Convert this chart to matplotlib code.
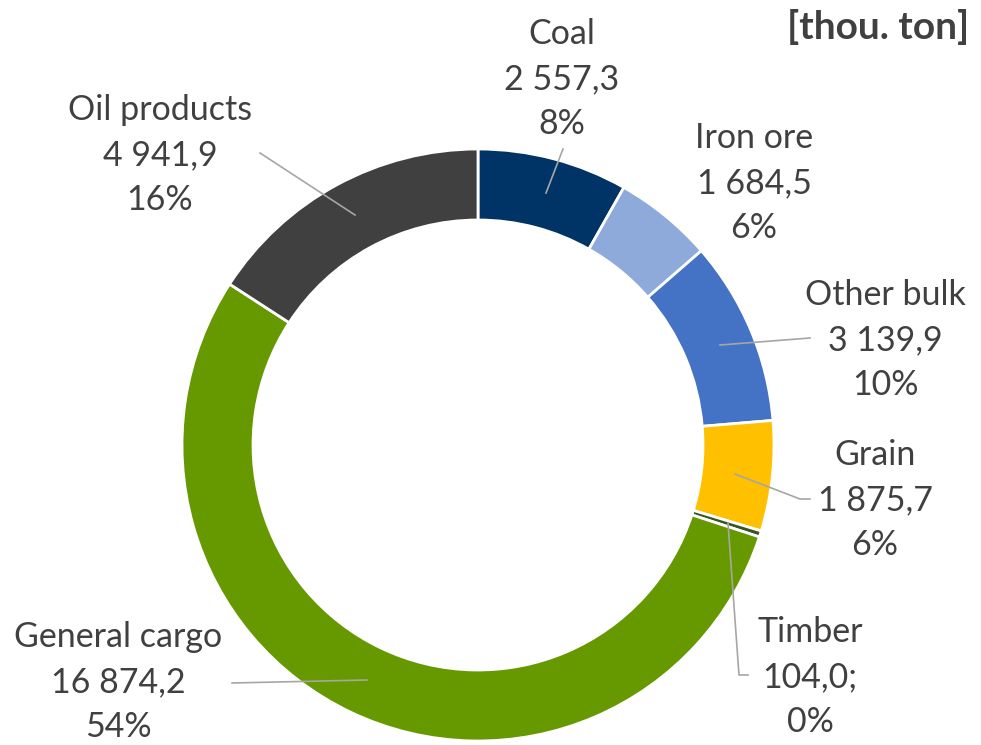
import matplotlib.pyplot as plt

# Datos
categorias = ['Coal', 'Iron ore', 'Other bulk', 'Grain', 'Timber', 'General cargo', 'Oil products']
valores = [2557.3, 1684.5, 3139.9, 1875.7, 104.0, 16874.2, 4941.9]
valores_txt = ['2 557,3', '1 684,5', '3 139,9', '1 875,7', '104,0;', '16 874,2', '4 941,9']
porcentajes = ['8%', '6%', '10%', '6%', '0%', '54%', '16%']
colores = ['#003366', '#8eaadb', '#4472c4', '#ffc000', '#375623', '#669900', '#404040']

# Posiciones de etiquetas (pixeles) y lineas guia
pos_etiquetas = [(562, 79), (754, 183), (885, 340), (875, 500), (810, 677), (118, 682), (160, 155)]
guias = [
    [(563, 149), (546, 193)],
    None,
    [(810, 338), (720, 345)],
    [(735, 474), (800, 499), (810, 499)],
    [(728, 523), (739, 675), (748, 675)],
    [(232, 683), (367, 680)],
    [(260, 153), (355, 215)],
]

W, H = 981, 745
fig = plt.figure(figsize=(W / 100, H / 100), dpi=100)
ax = fig.add_axes([0, 0, 1, 1])

fuente = 'Lato'
gris = '#404040'

# Dona (y invertida -> sentido antihorario se ve horario)
cx, cy, R = 478, 445, 296
ax.pie(valores, colors=colores, startangle=-90, counterclock=True,
       center=(cx, cy), radius=R, frame=True,
       wedgeprops=dict(width=71, edgecolor='white', linewidth=2))
ax.set_xlim(0, W)
ax.set_ylim(H, 0)
ax.axis('off')

for g in guias:
    if g is None:
        continue
    xs = [p[0] for p in g]
    ys = [p[1] for p in g]
    ax.plot(xs, ys, color='#a6a6a6', lw=1.2, zorder=5)

for cat, v, p, (x, y) in zip(categorias, valores_txt, porcentajes, pos_etiquetas):
    ax.text(x, y, f'{cat}\n{v}\n{p}', ha='center', va='center', fontsize=24.5,
            family=fuente, color=gris, linespacing=1.5, zorder=6)

ax.text(969, 27, '[thou. ton]', ha='right', va='center', fontsize=28,
        family=fuente, fontweight='bold', color=gris)

fig.savefig('out.png', dpi=100)
